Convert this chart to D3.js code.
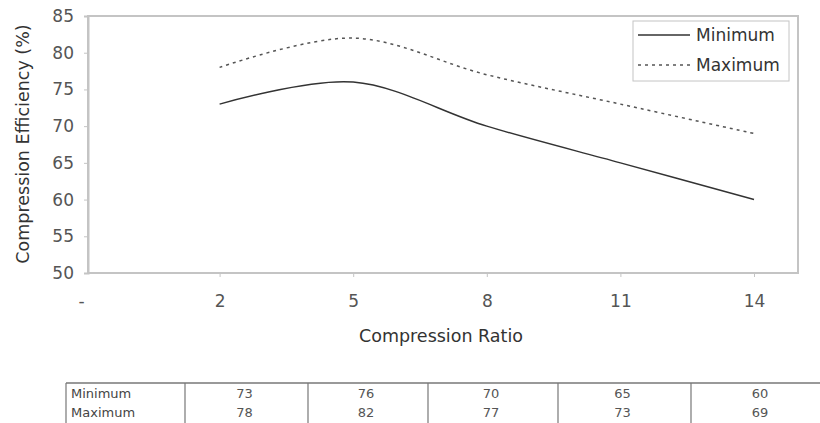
<!DOCTYPE html>
<html><head><meta charset="utf-8">
<script src="https://cdn.jsdelivr.net/npm/d3@7"></script>
<style>body{margin:0;background:#fff}svg{display:block}text{font-family:"DejaVu Sans",sans-serif}</style>
</head><body><svg id="c" width="820" height="423"></svg>
<script>
const categories = ["-", "2", "5", "8", "11", "14"];
const minimum = [null, 73, 76, 70, 65, 60];
const maximum = [null, 78, 82, 77, 73, 69];
const yTicks = [50, 55, 60, 65, 70, 75, 80, 85];
const seriesNames = ["Minimum", "Maximum"];
const tableCols = [66, 185, 308, 428, 558, 691, 833];

const svg = d3.select("#c");
const pLeft = 88, pRight = 798, pTop = 16, pBottom = 273;
const x = d3.scalePoint().domain(categories).range([86, 754]);
const y = d3.scaleLinear().domain([50, 85]).range([pBottom, pTop]);
const grey = "#c4c4c4";
const fs = "17px", fsT = "17.5px";

// plot frame
svg.append("rect").attr("x", pLeft).attr("y", pTop).attr("width", pRight - pLeft).attr("height", pBottom - pTop)
  .attr("fill", "none").attr("stroke", grey).attr("stroke-width", 2);

// y axis
const ya = svg.append("g").attr("transform", `translate(${pLeft},0)`)
  .call(d3.axisLeft(y).tickValues(yTicks).tickSize(4).tickPadding(10));
ya.select(".domain").attr("stroke", grey).attr("stroke-width", 2);
ya.selectAll(".tick line").attr("stroke", grey);
ya.selectAll(".tick text").attr("fill", "#555").style("font-size", fs);

// x axis
const xa = svg.append("g").attr("transform", `translate(0,${pBottom})`)
  .call(d3.axisBottom(x).tickSize(4).tickPadding(18).tickSizeOuter(0));
xa.select(".domain").remove();
xa.selectAll(".tick line").attr("stroke", grey);
xa.selectAll(".tick").filter(d => d === "-").select("line").remove();
xa.selectAll(".tick text").attr("fill", "#555").style("font-size", fs)
  .attr("dx", d => d === "-" ? -5 : 0);

// titles
svg.append("text").attr("x", 441).attr("y", 342).attr("text-anchor", "middle")
  .attr("fill", "#333").style("font-size", fsT).text("Compression Ratio");
svg.append("text").attr("transform", "translate(29,144) rotate(-90)").attr("text-anchor", "middle")
  .attr("fill", "#333").style("font-size", fsT).text("Compression Efficiency (%)");

// lines
const line = d3.line().defined(d => d.v != null).x(d => x(d.c)).y(d => y(d.v))
  .curve(d3.curveCardinal.tension(0));
const mk = arr => categories.map((c, i) => ({c, v: arr[i]}));
svg.append("path").datum(mk(minimum)).attr("d", line).attr("fill", "none")
  .attr("stroke", "#333").attr("stroke-width", 1.5);
svg.append("path").datum(mk(maximum)).attr("d", line).attr("fill", "none")
  .attr("stroke", "#555").attr("stroke-width", 1.5).attr("stroke-dasharray", "3,4");

// legend
const lg = svg.append("g");
lg.append("rect").attr("x", 633).attr("y", 21).attr("width", 156).attr("height", 60)
  .attr("fill", "#fff").attr("stroke", grey).attr("stroke-width", 1);
seriesNames.forEach((n, i) => {
  const yy = 35 + i * 30;
  lg.append("line").attr("x1", 638).attr("x2", 690).attr("y1", yy).attr("y2", yy)
    .attr("stroke", i ? "#555" : "#333").attr("stroke-width", 1.5)
    .attr("stroke-dasharray", i ? "3,4" : null);
  lg.append("text").attr("x", 696).attr("y", yy + 6).attr("fill", "#333")
    .style("font-size", fs).text(n);
});

// data table
const tg = svg.append("g");
const tTop = 383, tBot = 430;
tg.append("line").attr("x1", tableCols[0]).attr("x2", 820).attr("y1", tTop).attr("y2", tTop)
  .attr("stroke", "#777").attr("stroke-width", 1.5);
tableCols.forEach(cx => tg.append("line").attr("x1", cx).attr("x2", cx).attr("y1", tTop).attr("y2", tBot)
  .attr("stroke", "#777").attr("stroke-width", 1.2));
[minimum, maximum].forEach((arr, r) => {
  const ty = 398 + r * 19;
  tg.append("text").attr("x", 71).attr("y", ty).attr("fill", "#444").style("font-size", "13px").text(seriesNames[r]);
  arr.slice(1).forEach((v, j) => {
    tg.append("text").attr("x", (tableCols[j + 1] + tableCols[j + 2]) / 2 - 2).attr("y", ty)
      .attr("text-anchor", "middle").attr("fill", "#555").style("font-size", "13px").text(v);
  });
});
</script></body></html>
